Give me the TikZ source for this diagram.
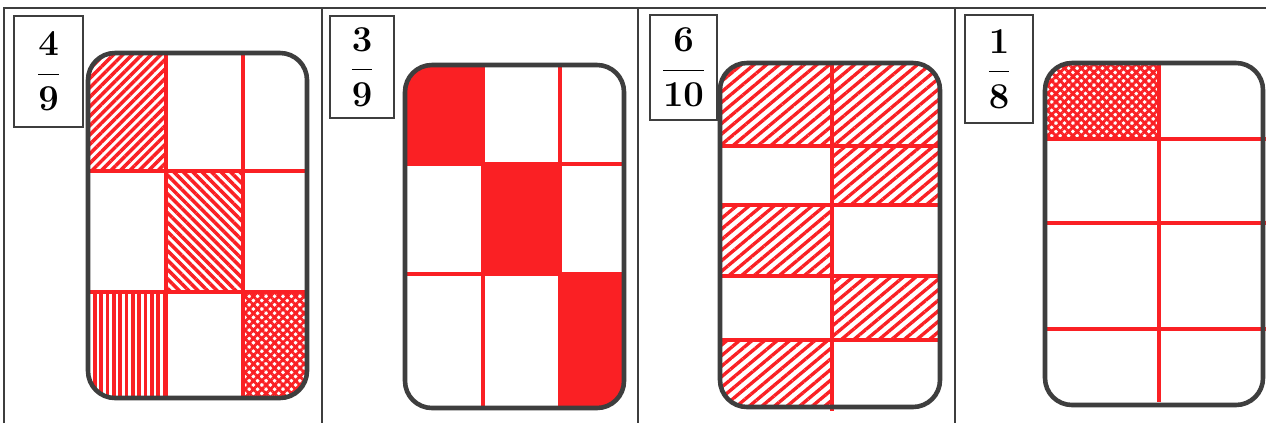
\documentclass[tikz,border=0pt]{standalone}
\usepackage{tikz}
\usetikzlibrary{patterns.meta}

\definecolor{pen}{RGB}{250,32,36}
\definecolor{frame}{RGB}{62,62,62}

\begin{document}
\begin{tikzpicture}[x=0.02cm, y=-0.02cm,
  panel/.style={draw=frame, line width=0.8pt},
  fracbox/.style={draw=frame, line width=0.7pt, inner sep=0pt,
    font=\fontsize{20}{24}\selectfont\boldmath},
  card/.style={draw=frame, line width=2.6pt, rounded corners=0.54cm},
  gridline/.style={draw=pen, line width=2pt},
  hatchup/.style={pattern={Lines[angle=45, distance=3.8pt, line width=2pt]}, pattern color=pen},
  hatchdown/.style={pattern={Lines[angle=-45, distance=3.8pt, line width=2pt]}, pattern color=pen},
  hatchvert/.style={pattern={Lines[angle=90, distance=3.6pt, line width=2pt]}, pattern color=pen},
  hatchcross/.style={pattern={Hatch[angle=45, distance=3.4pt, line width=1.6pt]}, pattern color=pen},
  hatchwide/.style={pattern={Lines[angle=40, distance=4.6pt, line width=1.9pt]}, pattern color=pen},
  inked/.style={fill=pen}]
  \useasboundingbox (0,0) rectangle (1266,423);
  \fill[white] (0,0) rectangle (1266,423);

  % panel frames
  \draw[panel] (4,423) -- (4,8) -- (1266,8);
  \foreach \px in {322,638,955}
    \draw[panel] (\px,8) -- (\px,423);

  % 4/9
  \begin{scope}
    \clip[rounded corners=0.54cm] (88,53) rectangle (307,398);
    \fill[hatchup]    (88,53)   rectangle (166,171);
    \fill[hatchdown]  (166,171) rectangle (243,292);
    \fill[hatchvert]  (88,292)  rectangle (166,398);
    \fill[hatchcross] (243,292) rectangle (307,398);
  \end{scope}
  \foreach \gx in {166,243} \draw[gridline] (\gx,53) -- (\gx,400);
  \foreach \gy in {171,292} \draw[gridline] (88,\gy) -- (307,\gy);
  \draw[card] (88,53) rectangle (307,398);
  \node[fracbox, minimum width=1.38cm, minimum height=2.22cm] (f49) at (48.5,71.5) {$\displaystyle\frac{4}{9}$};

  % 3/9
  \begin{scope}
    \clip[rounded corners=0.54cm] (405,65) rectangle (624,408);
    \fill[inked] (405,65)  rectangle (483,164);
    \fill[inked] (483,164) rectangle (560,274);
    \fill[inked] (560,274) rectangle (624,408);
  \end{scope}
  \foreach \gx in {483,560} \draw[gridline] (\gx,65) -- (\gx,408);
  \foreach \gy in {164,274} \draw[gridline] (405,\gy) -- (624,\gy);
  \draw[card] (405,65) rectangle (624,408);
  \node[fracbox, minimum width=1.28cm, minimum height=2.04cm] (f39) at (362,67) {$\displaystyle\frac{3}{9}$};

  % 6/10
  \begin{scope}
    \clip[rounded corners=0.54cm] (720,63) rectangle (940,407);
    \fill[hatchwide] (720,63)  rectangle (940,146);
    \fill[hatchwide] (832,146) rectangle (940,205);
    \fill[hatchwide] (720,205) rectangle (832,276);
    \fill[hatchwide] (832,276) rectangle (940,340);
    \fill[hatchwide] (720,340) rectangle (832,407);
  \end{scope}
  \draw[gridline] (832,63) -- (832,411);
  \foreach \gy in {146,205,276,340} \draw[gridline] (720,\gy) -- (940,\gy);
  \draw[card] (720,63) rectangle (940,407);
  \node[fracbox, minimum width=1.34cm, minimum height=2.10cm] (f610) at (683.5,67.5) {$\displaystyle\frac{6}{10}$};

  % 1/8
  \begin{scope}
    \clip[rounded corners=0.54cm] (1045,63) rectangle (1263,405);
    \fill[hatchcross] (1045,63) rectangle (1159,139);
  \end{scope}
  \draw[gridline] (1159,63) -- (1159,402);
  \foreach \gy in {139,223,329} \draw[gridline] (1045,\gy) -- (1266,\gy);
  \draw[card] (1045,63) rectangle (1263,405);
  \node[fracbox, minimum width=1.36cm, minimum height=2.16cm] (f18) at (999,69) {$\displaystyle\frac{1}{8}$};
\end{tikzpicture}
\end{document}
